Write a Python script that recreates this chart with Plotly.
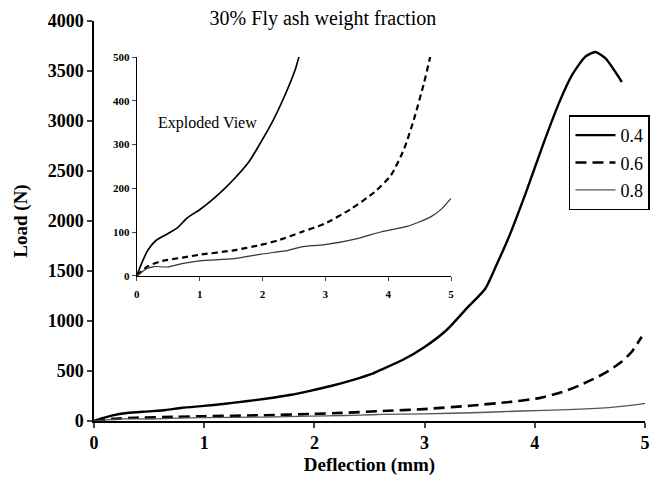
import plotly.graph_objects as go

# ---- data ----
x_04 = [0, 0.07, 0.17, 0.30, 0.49, 0.65, 0.80, 1.0, 1.17, 1.38, 1.54, 1.79, 1.94, 2.15, 2.36,
        2.52, 2.6, 2.8, 3.0, 3.2, 3.38, 3.55, 3.65, 3.77, 3.92, 4.07, 4.22, 4.34, 4.46, 4.55,
        4.64, 4.79]
y_04 = [0, 26, 57, 80, 96, 110, 132, 151, 170, 197, 220, 262, 297, 350, 414,
        471, 511, 610, 740, 910, 1124, 1323, 1555, 1854, 2286, 2749, 3181, 3463, 3645, 3690,
        3628, 3390]

x_06 = [0, 0.17, 0.38, 0.75, 1.0, 1.54, 1.96, 2.25, 2.62, 2.99, 3.41, 3.78, 4.04, 4.25, 4.41,
        4.57, 4.67, 4.79, 4.88, 4.97]
y_06 = [0, 21, 33, 42, 48, 58, 70, 81, 100, 119, 153, 191, 229, 289, 358,
        441, 502, 594, 693, 843]

x_08 = [0, 0.17, 0.28, 0.49, 0.70, 1.0, 1.54, 1.96, 2.27, 2.41, 2.62, 2.99, 3.51, 3.88, 4.30,
        4.67, 4.85, 5.0]
y_08 = [0, 17, 21, 20, 27, 34, 39, 49, 55, 58, 66, 71, 85, 100, 113,
        134, 153, 177]

series_names = ["0.4", "0.6", "0.8"]
main_ticks_y = [0, 500, 1000, 1500, 2000, 2500, 3000, 3500, 4000]
main_ticks_x = [0, 1, 2, 3, 4, 5]
inset_ticks_y = [0, 100, 200, 300, 400, 500]
inset_ticks_x = [0, 1, 2, 3, 4, 5]

title_text = "30% Fly ash weight fraction"
inset_label = "Exploded View"
x_title = "Deflection (mm)"
y_title = "Load (N)"

SERIF = "Liberation Serif, Times New Roman, serif"

fig = go.Figure()

styles = [
    dict(color="black", width=2.4, dash="solid", shape="spline", smoothing=0.6),
    dict(color="black", width=2.6, dash="11px,6px", shape="spline", smoothing=0.6),
    dict(color="#555555", width=1.3, dash="solid", shape="spline", smoothing=0.6),
]
inset_styles = [
    dict(color="black", width=1.7, dash="solid", shape="spline", smoothing=0.6),
    dict(color="black", width=2.2, dash="6px,4px", shape="spline", smoothing=0.6),
    dict(color="#333333", width=1.2, dash="solid", shape="spline", smoothing=0.6),
]
data = [(x_04, y_04), (x_06, y_06), (x_08, y_08)]

for (xs, ys), name, st in zip(data, series_names, styles):
    fig.add_trace(go.Scatter(x=xs, y=ys, mode="lines", name=name, line=st,
                             legendgroup=name, xaxis="x", yaxis="y"))

for (xs, ys), name, st in zip(data, series_names, inset_styles):
    fig.add_trace(go.Scatter(x=xs, y=ys, mode="lines", name=name, line=st,
                             showlegend=False, xaxis="x2", yaxis="y2"))

fig.update_layout(
    width=659, height=481, autosize=False,
    margin=dict(l=94, r=9, t=21, b=58),
    paper_bgcolor="white", plot_bgcolor="white",
    font=dict(family=SERIF, color="black"),
    title=dict(text=title_text, x=0.49, xanchor="center", y=0.962, yanchor="middle",
               yref="container", font=dict(size=20, family=SERIF, color="black")),
    xaxis=dict(range=[0, 5], tickvals=main_ticks_x, ticks="outside", ticklen=5, tickwidth=1.5,
               showline=True, linecolor="black", linewidth=1.5, showgrid=False, zeroline=False,
               tickfont=dict(size=18, family=SERIF, weight="bold"),
               title=dict(text=x_title, font=dict(size=19, family=SERIF, weight="bold"), standoff=5)),
    yaxis=dict(range=[0, 4000], tickvals=main_ticks_y, ticks="outside", ticklen=5, tickwidth=1.5,
               showline=True, linecolor="black", linewidth=1.5, showgrid=False, zeroline=False,
               tickfont=dict(size=18, family=SERIF, weight="bold"),
               title=dict(text=y_title, font=dict(size=19, family=SERIF, weight="bold"), standoff=15)),
    xaxis2=dict(domain=[0.0777, 0.648], anchor="y2", range=[0, 5], tickvals=inset_ticks_x,
                ticks="outside", ticklen=4, tickwidth=1.2, showline=True, linecolor="black",
                linewidth=1.3, showgrid=False, zeroline=False,
                tickfont=dict(size=11, family=SERIF, weight="bold"), ticklabelstandoff=4),
    yaxis2=dict(domain=[0.3632, 0.9097], anchor="x2", range=[0, 500], tickvals=inset_ticks_y,
                ticks="outside", ticklen=4, tickwidth=1.2, showline=True, linecolor="black",
                linewidth=1.3, showgrid=False, zeroline=False,
                tickfont=dict(size=11, family=SERIF, weight="bold")),
    legend=dict(x=0.862, xanchor="left", y=0.764, yanchor="top", bgcolor="white",
                bordercolor="black", borderwidth=1.5, font=dict(size=18, family=SERIF),
                tracegroupgap=1, itemwidth=40),
    showlegend=True,
)

fig.add_annotation(text=inset_label, xref="x2", yref="y2", x=0.3, y=350,
                   xanchor="left", yanchor="middle", showarrow=False,
                   font=dict(size=16, family=SERIF, color="black"))

fig.write_html("out.html")
